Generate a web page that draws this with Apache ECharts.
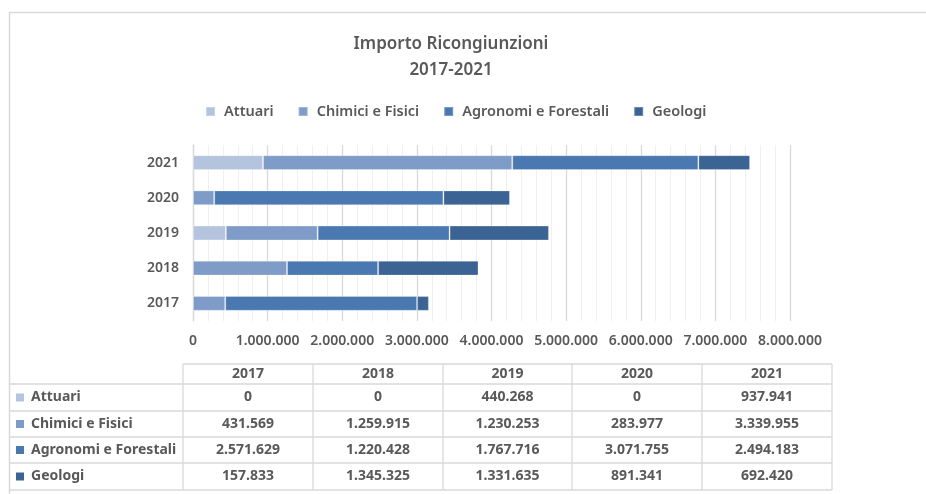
<!DOCTYPE html>
<html>
<head>
<meta charset="utf-8">
<title>Importo Ricongiunzioni 2017-2021</title>
<script src="https://cdn.jsdelivr.net/npm/echarts@6/dist/echarts.min.js"></script>
<style>
  html, body { margin: 0; padding: 0; background: #fff; }
  #chart { width: 926px; height: 494px; }
</style>
</head>
<body>
<div id="chart"></div>
<script>
// dati
const years = ['2017', '2018', '2019', '2020', '2021'];
const seriesNames = ['Attuari', 'Chimici e Fisici', 'Agronomi e Forestali', 'Geologi'];
const attuari = [0, 0, 440268, 0, 937941];
const chimici = [431569, 1259915, 1230253, 283977, 3339955];
const agronomi = [2571629, 1220428, 1767716, 3071755, 2494183];
const geologi = [157833, 1345325, 1331635, 891341, 692420];

const seriesData = [attuari, chimici, agronomi, geologi];
const colors = ['#b4c4df', '#7f9cc9', '#4a79b2', '#3b6393'];

const textColor = '#595959';
const gridColor = '#d9d9d9';
const minorColor = '#f0f0f0';
const fontFamily = '"Noto Sans", sans-serif';

// separatore migliaia all'italiana
const fmt = (v) => String(v).replace(/\B(?=(\d{3})+(?!\d))/g, '.');

// tabella dati sotto il grafico
const colX = [183, 313, 443, 572, 702, 832];
const rowY = [364, 384, 411, 437, 463, 490];

function buildTable() {
  const els = [];
  const line = (x1, y1, x2, y2) => els.push({
    type: 'line',
    shape: { x1: x1, y1: y1, x2: x2, y2: y2 },
    style: { stroke: gridColor, lineWidth: 1.3 },
    silent: true,
  });
  const text = (t, x, y, align) => els.push({
    type: 'text',
    x: x,
    y: y,
    style: {
      text: t,
      fill: textColor,
      font: 'bold 14px ' + fontFamily,
      align: align, textAlign: align,
      verticalAlign: 'middle', textVerticalAlign: 'middle',
    },
    silent: true,
  });

  line(colX[0], rowY[0], colX[5], rowY[0]);
  for (let r = 1; r < rowY.length; r++) line(10, rowY[r], colX[5], rowY[r]);
  colX.forEach((x) => line(x, rowY[0], x, rowY[rowY.length - 1]));

  years.forEach((y, c) => {
    text(y, (colX[c] + colX[c + 1]) / 2, (rowY[0] + rowY[1]) / 2, 'center');
  });
  seriesNames.forEach((name, r) => {
    const cy = (rowY[r + 1] + rowY[r + 2]) / 2;
    els.push({
      type: 'rect',
      shape: { x: 16, y: cy - 4, width: 8, height: 8 },
      style: { fill: colors[r] },
      silent: true,
    });
    text(name, 31, cy, 'left');
    seriesData[r].forEach((v, c) => {
      text(fmt(v), (colX[c] + colX[c + 1]) / 2, cy, 'center');
    });
  });
  return els;
}

const chart = echarts.init(document.getElementById('chart'));

const option = {
  animation: false,
  backgroundColor: '#fff',
  textStyle: { fontFamily: fontFamily },
  title: {
    text: 'Importo Ricongiunzioni\n2017-2021',
    left: 446,
    top: 26,
    textAlign: 'center',
    textStyle: {
      color: textColor,
      fontSize: 17,
      fontWeight: 600,
      lineHeight: 26,
      fontFamily: fontFamily,
    },
  },
  legend: {
    data: seriesNames,
    left: 200,
    top: 99,
    icon: 'rect',
    itemWidth: 9,
    itemHeight: 9,
    itemGap: 24,
    textStyle: {
      color: textColor,
      fontSize: 14.5,
      fontWeight: 600,
      fontFamily: fontFamily,
      padding: [0, 0, 0, 4],
    },
  },
  grid: {
    left: 193,
    right: 136,
    top: 145,
    bottom: 173,
    containLabel: false,
  },
  xAxis: {
    type: 'value',
    min: 0,
    max: 8000000,
    interval: 1000000,
    axisLine: { show: false },
    axisTick: { show: false },
    axisLabel: {
      color: textColor,
      fontSize: 14,
      fontWeight: 600,
      margin: 13,
      formatter: (v) => fmt(v),
    },
    splitLine: { show: true, lineStyle: { color: gridColor, width: 1.3 } },
    minorTick: { show: false, splitNumber: 5 },
    minorSplitLine: { show: true, lineStyle: { color: minorColor, width: 1 } },
  },
  yAxis: {
    type: 'category',
    data: years,
    axisLine: { show: true, lineStyle: { color: gridColor, width: 1.3 } },
    axisTick: { show: false },
    axisLabel: { color: textColor, fontSize: 14, fontWeight: 600, margin: 14 },
    splitLine: { show: false },
  },
  series: seriesNames.map((name, i) => ({
    name: name,
    type: 'bar',
    stack: 'totale',
    data: seriesData[i],
    barWidth: '42%',
    itemStyle: { color: colors[i], borderColor: 'rgba(255,255,255,0.25)', borderWidth: 1 },
  })),
  graphic: [
    {
      type: 'rect',
      z: -10,
      shape: { x: 9.5, y: 12.5, width: 940, height: 500 },
      style: { fill: 'none', stroke: gridColor, lineWidth: 1.5 },
      silent: true,
    },
  ].concat(buildTable()),
};

chart.setOption(option);
</script>
</body>
</html>
